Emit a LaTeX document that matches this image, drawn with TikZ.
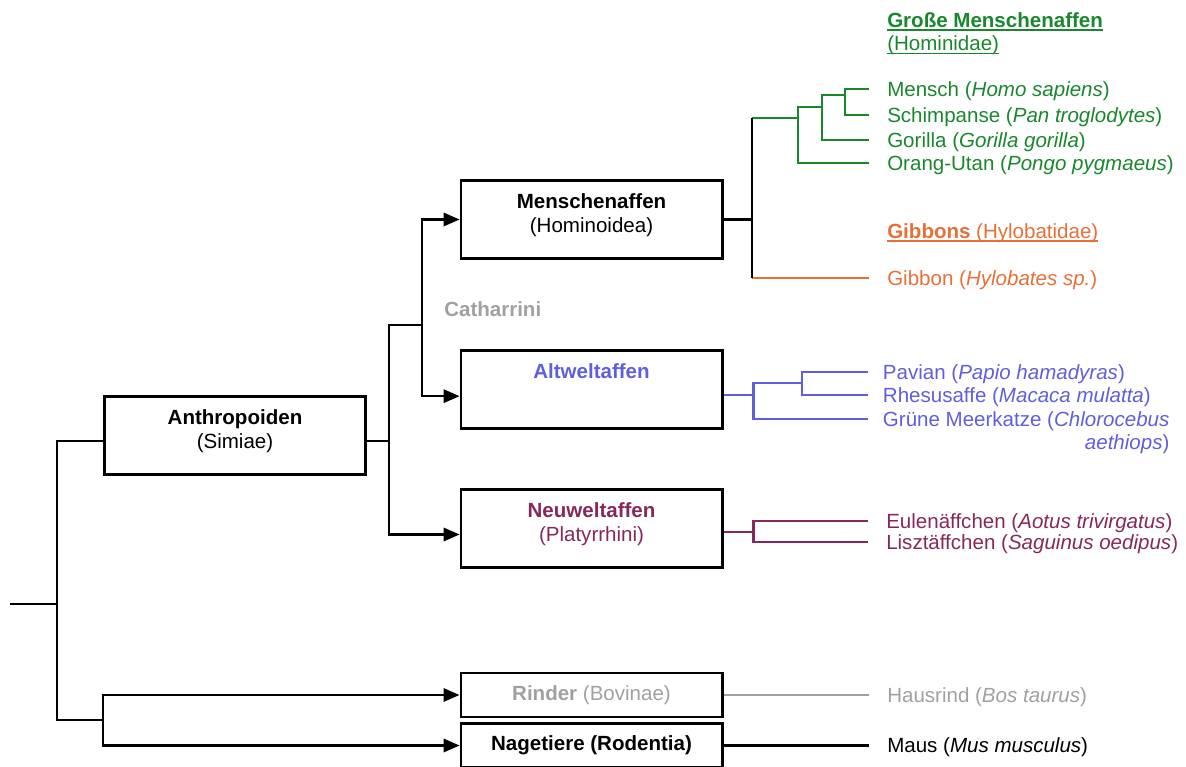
\documentclass[tikz,border=0pt]{standalone}
\usepackage{fontspec}
\setmainfont{Liberation Sans}
\usepackage{tikz}
\usetikzlibrary{arrows.meta}
\definecolor{hominid}{RGB}{25,135,45}
\definecolor{hylobatid}{RGB}{232,112,56}
\definecolor{owm}{RGB}{95,95,220}
\definecolor{nwm}{RGB}{135,40,90}
\definecolor{bovine}{RGB}{160,160,160}
\newlength{\cladelen}
\newcommand{\cladeline}[1]{\settowidth{\cladelen}{#1}\rlap{\rule[-2.6pt]{\cladelen}{1.3pt}}#1}
\newcommand{\taxontext}[1]{\raisebox{3pt}[\height][\depth]{\begin{tabular}{@{}c@{}}#1\end{tabular}}}
\tikzset{
	taxon/.style     = {draw, line width=2pt, minimum width=196pt, minimum height=58.75pt, inner sep=0pt},
	taxonflat/.style = {taxon, minimum height=33pt},
	leaf/.style      = {anchor=west, inner xsep=13.5pt, inner ysep=0pt, text height=10.8pt, text depth=0pt},
	cladename/.style = {anchor=west, inner sep=0pt, text height=10.8pt, text depth=0pt},
	branch/.style    = {line width=1.8pt},
	descent/.style   = {branch, -{Triangle[length=12pt,width=10pt]}},
}

\begin{document}
\begin{tikzpicture}[x=0.75pt, y=-0.75pt, font=\fontsize{15.4}{17.8}\selectfont]
		\useasboundingbox (0,0) rectangle (1186,767);
		% taxon boxes
		\node[taxon] (anthro) at (235,435.5) {\taxontext{\textbf{Anthropoiden}\\(Simiae)}};
		\node[taxon] (menschen) at (591.5,219.5) {\taxontext{\textbf{Menschenaffen}\\(Hominoidea)}};
		\node[taxon, text=owm] (altwelt) at (591.5,389.5) {\taxontext{\textbf{Altweltaffen}\\\mbox{}}};
		\node[taxon, text=nwm] (neuwelt) at (591.5,528.5) {\taxontext{\textbf{Neuweltaffen}\\(Platyrrhini)}};
		\node[taxonflat, text=bovine] (rinder) at (591.5,695) {\textbf{Rinder} (Bovinae)};
		\node[taxonflat] (nage) at (591.5,745.5) {\textbf{Nagetiere (Rodentia)}};
		\node[cladename, text=bovine] (catarrhini) at (444,309) {\textbf{Catharrini}};
		% clade headers
		\node[anchor=north west, inner sep=0pt, align=left, text=hominid] (hominidae) at (887,12) {\cladeline{\textbf{Große Menschenaffen}}\\\cladeline{(Hominidae)}};
		\node[cladename, text=hylobatid] (hylobatidae) at (887,231) {\cladeline{\textbf{Gibbons} (Hylobatidae)}};
		% species
		\node[leaf, text=hominid] (mensch) at (869,89) {Mensch (\textit{Homo sapiens})};
		\node[leaf, text=hominid] (schimp) at (869,115) {Schimpanse (\textit{Pan troglodytes})};
		\node[leaf, text=hominid] (gorilla) at (869,140) {Gorilla (\textit{Gorilla gorilla})};
		\node[leaf, text=hominid] (orang) at (869,163) {Orang-Utan (\textit{Pongo pygmaeus})};
		\node[leaf, text=hylobatid] (gibbon) at (869,278) {Gibbon (\textit{Hylobates sp.})};
		\node[leaf, text=owm, inner xsep=11pt] (pavian) at (868,372) {Pavian (\textit{Papio hamadyras})};
		\node[leaf, text=owm, inner xsep=11pt] (rhesus) at (868,395) {Rhesusaffe (\textit{Macaca mulatta})};
		\node[anchor=north west, inner xsep=11pt, inner ysep=0pt, align=right, text=owm] (meerkatze) at (868,411) {Grüne Meerkatze (\textit{Chlorocebus}\\\textit{aethiops})};
		\node[leaf, text=nwm] (eule) at (868,521) {Eulenäffchen (\textit{Aotus trivirgatus})};
		\node[leaf, text=nwm] (liszt) at (868,542) {Lisztäffchen (\textit{Saguinus oedipus})};
		\node[leaf, text=bovine] (hausrind) at (869,695) {Hausrind (\textit{Bos taurus})};
		\node[leaf] (maus) at (869,745.5) {Maus (\textit{Mus musculus})};
		% root and outgroups
		\coordinate (root) at (10,604);
		\coordinate (j0) at (57,604);
		\coordinate (j1) at (103,720);
		\draw[branch] (root) -- (j0);
		\draw[branch] ([yshift=-4pt]anthro.west) -| (j0) |- (j1);
		\draw[descent] (j1) |- (rinder.west);
		\draw[descent] (j1) |- (nage.west);
		% Anthropoiden
		\coordinate (j3) at (422,325);
		\draw[branch] ([yshift=-4pt]anthro.east) -- ++(22,0) coordinate (j2);
		\draw[branch] (j2) |- (j3);
		\draw[descent] (j2) |- ([yshift=-4.5pt]neuwelt.west);
		\draw[descent] (j3) |- (menschen.west);
		\draw[descent] (j3) |- ([yshift=-5pt]altwelt.west);
		% Menschenaffen
		\coordinate (m1) at (752,118);
		\coordinate (m2) at (752,278);
		\coordinate (g1) at (798,107);
		\coordinate (g2) at (822,95);
		\coordinate (g3) at (845,102);
		\draw[branch] (menschen.east) -- (menschen.east -| m1);
		\draw[branch, hominid] (m1) -- (m1 -| g1);
		\draw[branch, hominid] (orang.west) -| (g1) -- (g1 -| g2);
		\draw[branch, hominid] (gorilla.west) -| (g2) -- (g2 -| g3);
		\draw[branch, hominid] (mensch.west) -| (g3) |- (schimp.west);
		\draw[branch, hylobatid] (m2) -- (gibbon.west);
		\draw[branch] (m1) -- (m2);
		% Altweltaffen
		\coordinate (a2) at (802,383);
		\draw[branch, owm] ([yshift=-4pt]altwelt.east) -- ++(30,0) coordinate (a0);
		\draw[branch, owm] (pavian.west) -| (a2) |- (rhesus.west);
		\draw[branch, owm] (a2) -| (a0) |- ([yshift=-6pt]meerkatze.north west);
		% Neuweltaffen
		\draw[branch, nwm] ([yshift=-2.5pt]neuwelt.east) -- ++(30,0) coordinate (p0);
		\draw[branch, nwm] (eule.west) -| (p0) |- (liszt.west);
		% Rinder, Nagetiere
		\draw[branch, bovine] (rinder.east) -- (hausrind.west);
		\draw[branch] (nage.east) -- (maus.west);
	\end{tikzpicture}
\end{document}
